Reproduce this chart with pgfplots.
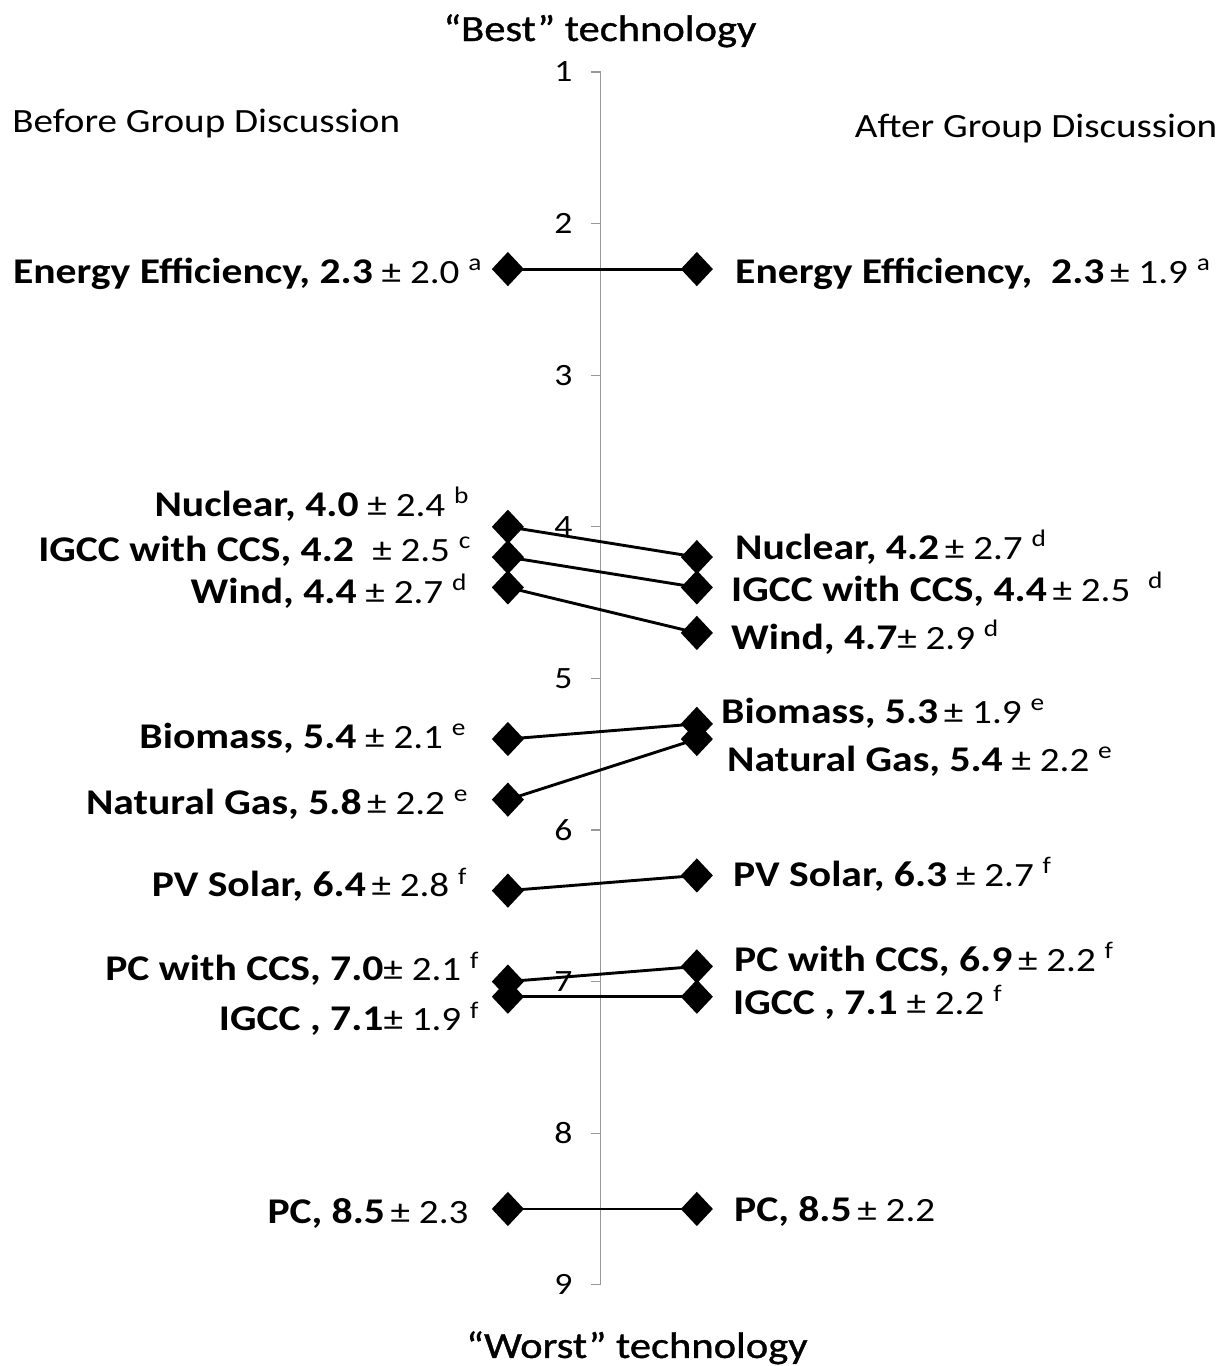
\documentclass[border=0pt]{standalone}
\usepackage{fontspec}
\setmainfont{Carlito}[FakeStretch=1.15]
\newfontfamily\medfont{Carlito}[FakeStretch=1.15, FakeBold=1]
\usepackage{pgfplots}
\pgfplotsset{compat=1.18}
\newcommand{\bl}[1]{{\fontsize{18.1}{18.1}\selectfont\bfseries #1}}
\newcommand{\lab}[3]{\bl{#1} ± #2 \textsuperscript{#3}}
\begin{document}
\begin{tikzpicture}
\begin{axis}[
  scale only axis, width=48pt, height=606.5pt,
  xmin=0, xmax=96, ymin=1, ymax=9, y dir=reverse,
  axis y line=left, axis x line=none,
  y axis line style={-, draw=gray!80, line width=0.6pt},
  ytick={1,2,3,4,5,6,7,8,9},
  major tick length=5pt, tick align=outside,
  ytick style={draw=gray!80, line width=0.6pt},
  yticklabel style={font=\fontsize{15.5}{15.5}\selectfont, xshift=-9pt},
  /pgf/number format/assume math mode=true,
  clip=false,
  pair/.style={black, line width=1.45pt, mark=diamond*, mark size=7.5pt, mark options={solid, fill=black, xscale=1.25}},
  nodes={font=\fontsize{17}{17}\selectfont, inner sep=0pt},
]
\addplot[pair] coordinates {(-93,2.3) (96,2.3)};
\addplot[pair] coordinates {(-93,4.0) (96,4.2)};
\addplot[pair] coordinates {(-93,4.2) (96,4.4)};
\addplot[pair] coordinates {(-93,4.4) (96,4.7)};
\addplot[pair] coordinates {(-93,5.4) (96,5.3)};
\addplot[pair] coordinates {(-93,5.8) (96,5.4)};
\addplot[pair] coordinates {(-93,6.4) (96,6.3)};
\addplot[pair] coordinates {(-93,7.0) (96,6.9)};
\addplot[pair] coordinates {(-93,7.1) (96,7.1)};
\addplot[pair] coordinates {(-93,8.5) (96,8.5)};
% left labels
\node[anchor=base east] at (axis cs:-118,2.392) {\lab{Energy Efficiency, 2.3}{2.0}{a}};
\node[anchor=base east] at (axis cs:-131,3.929) {\lab{Nuclear, 4.0}{2.4}{b}};
\node[anchor=base east] at (axis cs:-129,4.226) {\lab{IGCC with CCS, 4.2\ }{2.5}{c}};
\node[anchor=base east] at (axis cs:-133,4.503) {\lab{Wind, 4.4}{2.7}{d}};
\node[anchor=base east] at (axis cs:-134,5.460) {\lab{Biomass, 5.4}{2.1}{e}};
\node[anchor=base east] at (axis cs:-132,5.895) {\bl{Natural Gas, 5.8}\,± 2.2 \textsuperscript{e}};
\node[anchor=base east] at (axis cs:-133,6.442) {\bl{PV Solar, 6.4}\,± 2.8 \textsuperscript{f}};
\node[anchor=base east] at (axis cs:-121,6.996) {\bl{PC with CCS, 7.0}± 2.1 \textsuperscript{f}};
\node[anchor=base east] at (axis cs:-121,7.326) {\bl{IGCC , 7.1}± 1.9 \textsuperscript{f}};
\node[anchor=base east] at (axis cs:-132,8.593) {\bl{PC, 8.5}\,± 2.3};
% right labels
\node[anchor=base west] at (axis cs:134,2.392) {\bl{Energy Efficiency,\ \ 2.3}\,± 1.9 \textsuperscript{a}};
\node[anchor=base west] at (axis cs:134,4.213) {\bl{Nuclear, 4.2}\,± 2.7 \textsuperscript{d}};
\node[anchor=base west] at (axis cs:130,4.490) {\bl{IGCC with CCS, 4.4}\,± 2.5 \ \textsuperscript{d}};
\node[anchor=base west] at (axis cs:130,4.807) {\bl{Wind, 4.7}± 2.9 \textsuperscript{d}};
\node[anchor=base west] at (axis cs:120,5.295) {\bl{Biomass, 5.3}\,± 1.9 \textsuperscript{e}};
\node[anchor=base west] at (axis cs:126,5.611) {\bl{Natural Gas, 5.4} ± 2.2 \textsuperscript{e}};
\node[anchor=base west] at (axis cs:132,6.370) {\bl{PV Solar, 6.3} ± 2.7 \textsuperscript{f}};
\node[anchor=base west] at (axis cs:133,6.931) {\bl{PC with CCS, 6.9}\,± 2.2 \textsuperscript{f}};
\node[anchor=base west] at (axis cs:132,7.214) {\bl{IGCC , 7.1} ± 2.2 \textsuperscript{f}};
\node[anchor=base west] at (axis cs:133,8.580) {\bl{PC, 8.5}\,± 2.2};
% titles
\node[anchor=base, font=\fontsize{18.5}{18.5}\medfont] at (axis cs:-1,0.7955) {“Best” technology};
\node[anchor=base, font=\fontsize{18.5}{18.5}\medfont] at (axis cs:36,9.483) {“Worst” technology};
\node[anchor=base west] at (axis cs:-589,1.402) {Before Group Discussion};
\node[anchor=base east] at (axis cs:617,1.435) {After Group Discussion};
\coordinate (bbA) at (axis cs:-601,0.525);
\coordinate (bbB) at (axis cs:621,9.536);
\end{axis}
\pgfresetboundingbox
\useasboundingbox (bbA) rectangle (bbB);
\end{tikzpicture}
\end{document}
